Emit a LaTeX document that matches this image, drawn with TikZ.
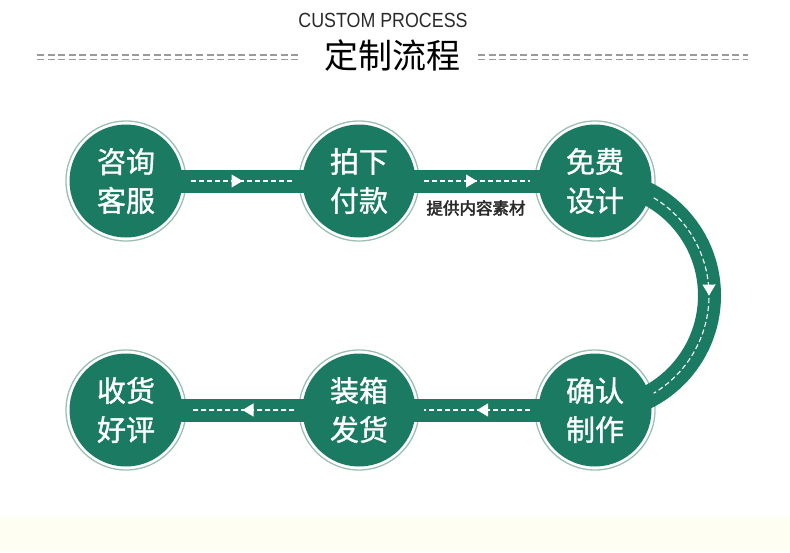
\documentclass[tikz,border=0pt]{standalone}
\usepackage{fontspec}
\setmainfont{Liberation Sans}
\newfontfamily\narrowsans[FakeStretch=0.87]{Liberation Sans}
\newfontfamily\cjk{Noto Sans CJK SC}
\newfontfamily\cjkm[FakeBold=2.5]{Noto Sans CJK SC}
\newfontfamily\cjkc[FakeBold=1.2]{Noto Sans CJK SC}
\usetikzlibrary{arrows.meta,decorations.markings,calc,backgrounds}
\definecolor{pgreen}{HTML}{1B7A62}
\definecolor{pring}{HTML}{9CBFB3}
\definecolor{cream}{HTML}{FFFEF3}
\definecolor{tgray}{HTML}{9A9A9A}
\definecolor{dtext}{HTML}{2A2A2A}
\tikzset{
  stepnode/.style={circle,fill=pgreen,minimum size=113pt,inner sep=0pt,text=white,align=center,
    font=\cjkc\fontsize{29}{39}\selectfont},
  ringline/.style={draw=pring,line width=1.3pt,fill=white},
  bar/.style={draw=pgreen,line width=23pt},
  flow/.style={draw=white,line width=1.1pt,dash pattern=on 5pt off 3pt,
    postaction={decorate},
    decoration={markings,mark=at position 0.5 with {\arrow[white]{Triangle[width=13pt,length=11pt]}}}},
  sepline/.style={draw=tgray,line width=1.2pt,dash pattern=on 7pt off 3.6pt},
}
\begin{document}
\begin{tikzpicture}[x=1pt,y=-1pt]
\useasboundingbox (0,0) rectangle (790,552);
\fill[cream] (0,517) rectangle (790,552);
% title
\node[text=dtext] (en) at (383,20.5) {\narrowsans\fontsize{20.5}{22}\selectfont CUSTOM PROCESS};
\node (cn) at (392,56) {\cjk\fontsize{34}{36}\selectfont 定制流程};
\coordinate (l1) at (37,55); \coordinate (l2) at (298,55);
\coordinate (l3) at (37,59.5); \coordinate (l4) at (298,59.5);
\coordinate (r1) at (478,55); \coordinate (r2) at (748,55);
\coordinate (r3) at (478,59.5); \coordinate (r4) at (748,59.5);
\draw[sepline] (l1) -- (l2); \draw[sepline] (l3) -- (l4);
\draw[sepline] (r1) -- (r2); \draw[sepline] (r3) -- (r4);
% steps
\node[stepnode] (s1) at (126,181) {咨询\\客服};
\node[stepnode] (s2) at (359,181) {拍下\\付款};
\node[stepnode] (s3) at (595,181) {免费\\设计};
\node[stepnode] (s4) at (595,410) {确认\\制作};
\node[stepnode] (s5) at (359,410) {装箱\\发货};
\node[stepnode] (s6) at (126,410) {收货\\好评};
\coordinate (ac) at ($(s3.center)!0.5!(s4.center)$);
\begin{scope}[on background layer]
  \foreach \n in {s1,s2,s3,s4,s5,s6} {\draw[ringline] (\n.center) circle[radius=60];}
  \draw[bar] (s1.center) -- (s2.center);
  \draw[bar] (s2.center) -- (s3.center);
  \draw[bar] (s5.center) -- (s4.center);
  \draw[bar] (s6.center) -- (s5.center);
  \draw[bar] (s3.center) arc[start angle=-90,end angle=90,radius=114.5];
\end{scope}
\draw[flow,shorten <=8pt,shorten >=8pt] (s1.east) -- (s2.west);
\draw[flow,shorten <=8pt,shorten >=8pt] (s2.east) -- (s3.west);
\draw[flow,shorten <=8pt,shorten >=8pt] (s4.west) -- (s5.east);
\draw[flow,shorten <=8pt,shorten >=8pt] (s5.west) -- (s6.east);
\draw[flow] ($(ac)+(-59:114)$) arc[start angle=-59,end angle=59,radius=114];
\node[text=dtext] (lab) at (476,208) {\cjkm\fontsize{16.5}{18}\selectfont 提供内容素材};
\end{tikzpicture}
\end{document}
